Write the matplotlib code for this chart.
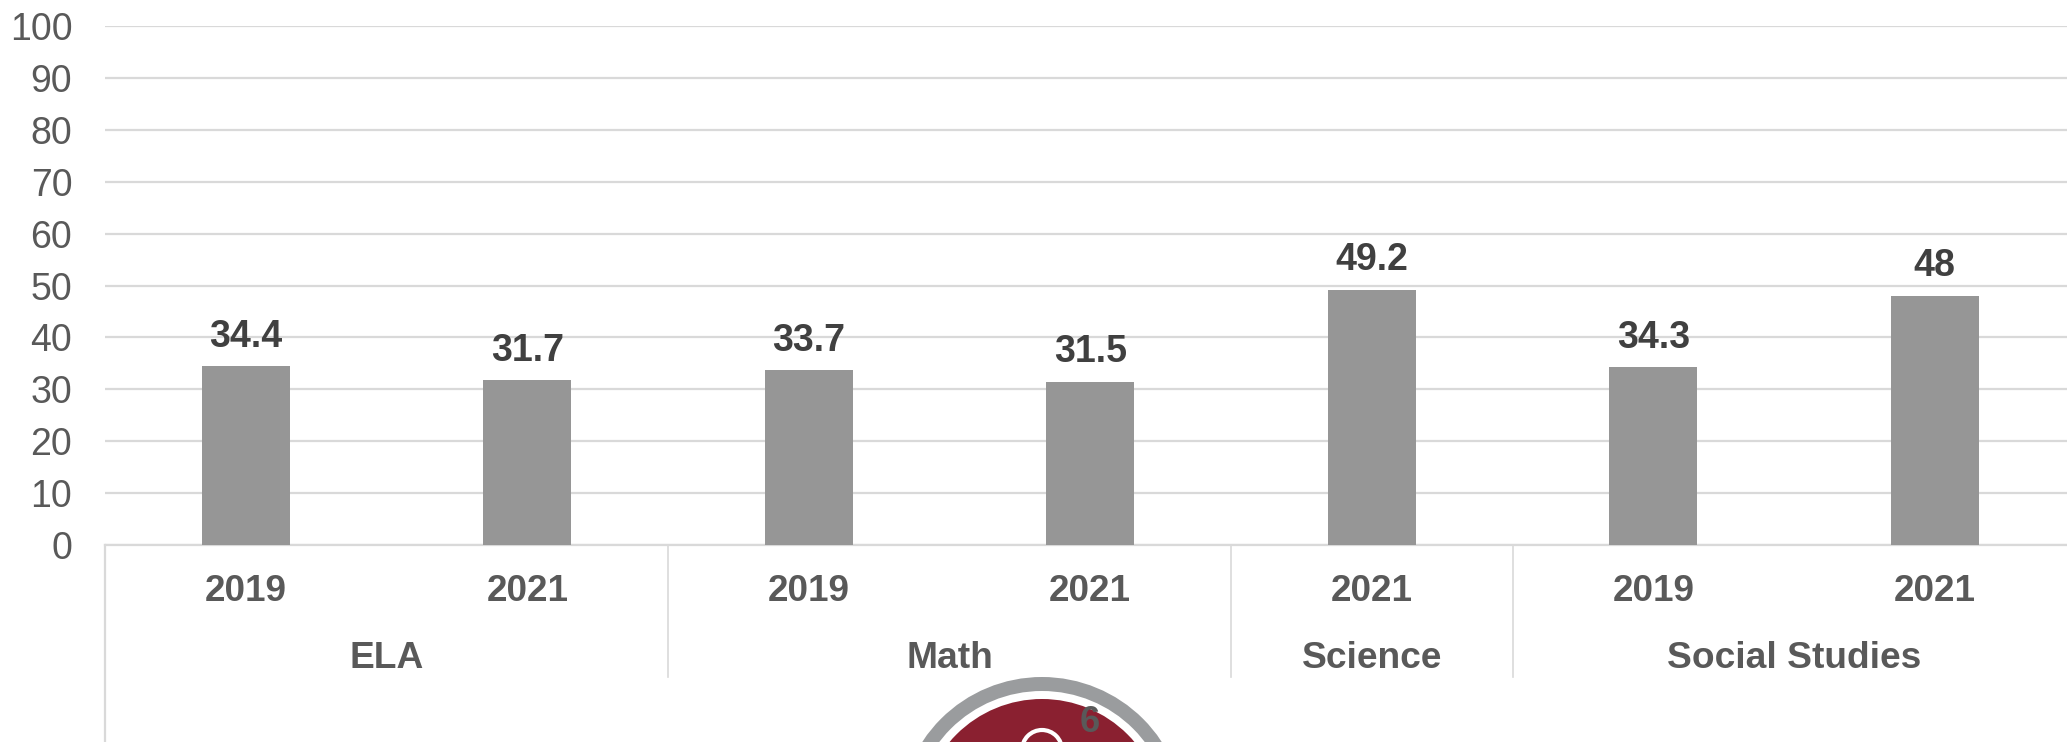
import matplotlib
matplotlib.use("Agg")
import matplotlib.pyplot as plt
from matplotlib.patches import Circle

plt.rcParams["font.family"] = ["Liberation Sans", "DejaVu Sans"]

materias = ["ELA", "Math", "Science", "Social Studies"]
cantidad_por_materia = [2, 2, 1, 2]
anios = ["2019", "2021", "2019", "2021", "2021", "2019", "2021"]
valores = [34.4, 31.7, 33.7, 31.5, 49.2, 34.3, 48]
etiquetas = ["34.4", "31.7", "33.7", "31.5", "49.2", "34.3", "48"]
ticks_y = [0, 10, 20, 30, 40, 50, 60, 70, 80, 90, 100]

ANCHO, ALTO = 2067, 742
GRIS_LINEA = "#D9D9D9"
GRIS_TEXTO = "#595959"
GRIS_DATO = "#404040"
GRIS_BARRA = "#969696"

fig = plt.figure(figsize=(ANCHO / 100, ALTO / 100), dpi=100, facecolor="white")
ax = fig.add_axes([105 / ANCHO, (ALTO - 545) / ALTO, (ANCHO - 105) / ANCHO, 519 / ALTO])

posiciones = list(range(len(valores)))
ax.bar(posiciones, valores, width=88 / 281.5, color=GRIS_BARRA, zorder=3)
ax.set_xlim(-0.5, -0.5 + (ANCHO - 105) / 281.5)
ax.set_ylim(0, 100)

ax.set_yticks(ticks_y)
ax.set_xticks(posiciones)
ax.set_xticklabels(anios, fontsize=26.6, fontweight="bold", color=GRIS_TEXTO)
ax.tick_params(axis="y", length=0, pad=23.5, labelsize=27, labelcolor=GRIS_TEXTO)
ax.tick_params(axis="x", length=0, pad=21)
ax.grid(axis="y", color=GRIS_LINEA, linewidth=1.6, zorder=1)
ax.set_axisbelow(True)

for lado in ["top", "right", "left"]:
    ax.spines[lado].set_visible(False)
ax.spines["bottom"].set_color(GRIS_LINEA)
ax.spines["bottom"].set_linewidth(1.6)

# etiquetas de datos (la linea de la grilla pasa por detras)
for x, v, texto in zip(posiciones, valores, etiquetas):
    ax.annotate(texto, (x, v), xytext=(0, 14), textcoords="offset points",
                ha="center", va="baseline", fontsize=27, fontweight="bold",
                color=GRIS_DATO, zorder=4)

# segundo nivel del eje x: materias y separadores
trans = ax.get_xaxis_transform()
inicio = -0.5
y_sep = -(677 - 545) / 519
y_materia = -(659 - 545) / 519
ax.plot([-0.5, -0.5], [0, -(742 - 545) / 519], transform=trans, color=GRIS_LINEA,
        linewidth=1.6, clip_on=False)
for materia, cantidad in zip(materias, cantidad_por_materia):
    fin = inicio + cantidad
    ax.text((inicio + fin) / 2, y_materia, materia, transform=trans, ha="center", va="center",
            fontsize=26.7, fontweight="bold", color=GRIS_TEXTO, clip_on=False)
    if fin < len(valores) - 0.5:
        ax.plot([fin, fin], [0, y_sep], transform=trans, color=GRIS_LINEA,
                linewidth=1.2, clip_on=False)
    inicio = fin

# emblema cortado abajo, en pixeles de la figura
fondo = fig.add_axes([0, 0, 1, 1], facecolor="none", zorder=5)
fondo.set_xlim(0, ANCHO)
fondo.set_ylim(ALTO, 0)
fondo.axis("off")
fondo.add_patch(Circle((1042, 820), 143, color="#9A9C9E", lw=0))
fondo.add_patch(Circle((1042, 820), 129, color="white", lw=0))
fondo.add_patch(Circle((1042, 820), 121, color="#8A2030", lw=0))
fondo.add_patch(Circle((1042, 750), 20, facecolor="#8A2030", edgecolor="white", lw=3))
fondo.text(1090, 723, "6", ha="center", va="center", fontsize=26, fontweight="bold", color=GRIS_TEXTO)

fig.savefig("out.png", dpi=100)
